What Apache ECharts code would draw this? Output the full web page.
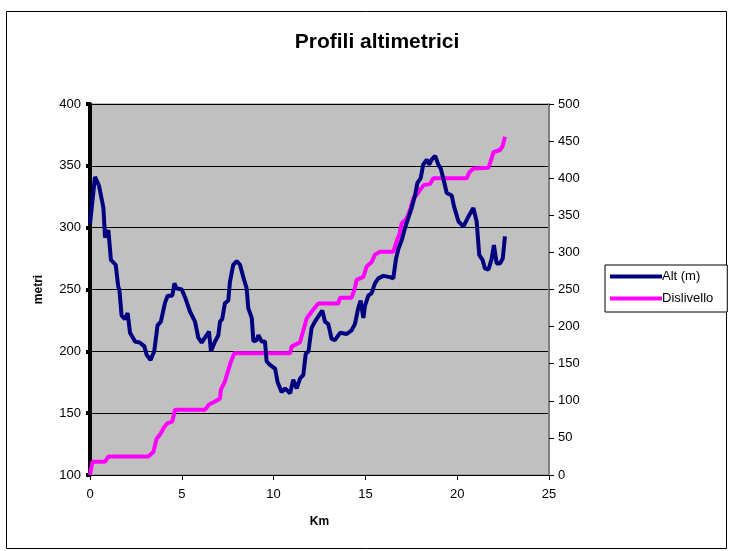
<!DOCTYPE html>
<html>
<head>
<meta charset="utf-8">
<script src="https://cdn.jsdelivr.net/npm/echarts@6/dist/echarts.min.js"></script>
<style>
  html, body { margin: 0; padding: 0; background: #fff; }
  #chart { width: 729px; height: 551px; }
</style>
</head>
<body>
<div id="chart"></div>
<script>
// Alt (m) - km / metri (asse sinistro)
const altKm = [0, 0.27, 0.49, 0.73, 0.82, 1.0, 1.14, 1.4, 1.54, 1.6, 1.72, 1.9, 2.05, 2.18, 2.45, 2.72, 2.96, 3.09, 3.3, 3.5,
  3.68, 3.86, 4.08, 4.23, 4.48, 4.6, 4.7, 5.0, 5.17, 5.45, 5.72, 5.9, 6.08, 6.26, 6.48, 6.59, 6.81, 6.99, 7.08, 7.2,
  7.35, 7.53, 7.62, 7.8, 7.99, 8.17, 8.35, 8.53, 8.62, 8.81, 8.9, 9.08, 9.17, 9.35, 9.53, 9.62, 9.8, 10.08, 10.22, 10.44,
  10.62, 10.9, 11.07, 11.26, 11.44, 11.62, 11.75, 11.9, 12.07, 12.25, 12.43, 12.65, 12.8, 12.98, 13.16, 13.34, 13.62, 13.98, 14.25, 14.43,
  14.61, 14.74, 14.89, 14.98, 15.16, 15.34, 15.52, 15.7, 15.98, 16.34, 16.52, 16.67, 16.8, 16.98, 17.16, 17.34, 17.52, 17.7, 17.83, 18.01,
  18.15, 18.34, 18.48, 18.6, 18.8, 18.97, 19.1, 19.24, 19.43, 19.7, 19.83, 20.07, 20.34, 20.61, 20.88, 21.06, 21.2, 21.38, 21.51, 21.7,
  21.88, 22.0, 22.15, 22.33, 22.48, 22.6];
const altM = [303, 341, 334, 316, 292, 298, 274, 270, 252, 250, 229, 226, 231, 215, 208, 207, 204, 197, 193, 200,
  221, 224, 239, 245, 245, 255, 251, 250, 244, 232, 224, 211, 207, 211, 216, 200, 208, 213, 224, 226,
  239, 241, 256, 270, 273, 270, 260, 251, 235, 227, 208, 209, 213, 208, 208, 192, 189, 186, 175, 167,
  170, 166, 177, 170, 178, 181, 198, 200, 219, 224, 228, 233, 224, 222, 210, 209, 215, 214, 217, 222,
  235, 241, 227, 237, 245, 247, 255, 259, 261, 260, 259, 275, 283, 290, 300, 308, 316, 326, 336, 340,
  351, 355, 351, 355, 358, 351, 348, 340, 328, 326, 317, 305, 301, 309, 316, 305, 278, 274, 267, 266,
  275, 286, 271, 271, 275, 293];

// Dislivello - km / metri (asse destro)
const disKm = [0, 0.13, 0.82, 1.0, 3.18, 3.45, 3.63, 3.8, 4.05, 4.23, 4.48, 4.63, 6.26, 6.48, 6.81, 7.08, 7.13, 7.35, 7.5, 7.68,
  7.86, 10.9, 10.98, 11.44, 11.62, 11.8, 12.07, 12.43, 13.52, 13.62, 14.25, 14.43, 14.52, 14.89, 15.07, 15.34, 15.52, 15.8, 16.52, 16.7,
  16.85, 16.98, 17.25, 17.43, 17.61, 17.8, 17.97, 18.19, 18.52, 18.7, 20.52, 20.66, 20.88, 21.7, 21.88, 21.97, 22.33, 22.47, 22.6];
const disM = [0, 18, 18, 25, 25, 31, 49, 54, 65, 70, 72, 88, 88, 95, 99, 103, 115, 126, 139, 153,
  164, 164, 173, 179, 195, 211, 220, 231, 231, 239, 239, 252, 263, 267, 281, 287, 297, 301, 301, 315,
  324, 339, 346, 357, 373, 378, 384, 391, 392, 400, 400, 408, 413, 414, 427, 435, 438, 443, 456];

const leftTicks = [100, 400, 50];
const rightTicks = [0, 500, 50];
const kmTicks = [0, 25, 5];

const pairs = (xs, ys) => xs.map((x, i) => [x, ys[i]]);

const chart = echarts.init(document.getElementById("chart"));
const font = "Liberation Sans, Arial, sans-serif";

chart.setOption({
  animation: false,
  backgroundColor: "#ffffff",
  textStyle: { fontFamily: font },
  graphic: [
    {
      type: "rect",
      shape: { x: 6.5, y: 11.5, width: 720, height: 537 },
      style: { fill: "none", stroke: "#000", lineWidth: 1 },
      silent: true
    }
  ],
  title: {
    text: "Profili altimetrici",
    left: 372,
    textAlign: "center",
    top: 27,
    textStyle: { fontFamily: font, fontSize: 21, fontWeight: "bold", color: "#000" }
  },
  legend: {
    orient: "vertical",
    left: 605,
    top: 265,
    padding: [5, 14, 7, 5],
    itemGap: 9,
    itemWidth: 52,
    itemHeight: 4,
    borderColor: "#000",
    borderWidth: 1,
    backgroundColor: "#fff",
    icon: "rect",
    textStyle: { fontFamily: font, fontSize: 13, color: "#000", padding: [0, 0, 0, -5] },
    data: ["Alt (m)", "Dislivello"]
  },
  grid: {
    left: 90,
    right: 180,
    top: 104,
    bottom: 76,
    show: true,
    backgroundColor: "#c0c0c0",
    borderColor: "#808080",
    borderWidth: 1
  },
  xAxis: {
    type: "value",
    min: kmTicks[0],
    max: kmTicks[1],
    interval: kmTicks[2],
    name: "Km",
    nameLocation: "middle",
    nameGap: 41,
    nameTextStyle: { fontFamily: font, fontSize: 12, fontWeight: "bold", color: "#000" },
    axisLine: { show: true, lineStyle: { color: "#000", width: 1 } },
    axisTick: { show: true, inside: false, length: 5, lineStyle: { color: "#000" } },
    axisLabel: { fontFamily: font, fontSize: 13, color: "#000", margin: 13 },
    splitLine: { show: false }
  },
  yAxis: [
    {
      type: "value",
      min: leftTicks[0],
      max: leftTicks[1],
      interval: leftTicks[2],
      name: "metri",
      nameLocation: "middle",
      nameGap: 45,
      nameTextStyle: { fontFamily: font, fontSize: 12, fontWeight: "bold", color: "#000" },
      axisLine: { show: true, lineStyle: { color: "#000", width: 4 } },
      axisTick: { show: true, length: 4, lineStyle: { color: "#000", width: 4 } },
      axisLabel: { fontFamily: font, fontSize: 13, color: "#000", margin: 9 },
      splitLine: { show: true, lineStyle: { color: "#000", width: 1 } }
    },
    {
      type: "value",
      position: "right",
      min: rightTicks[0],
      max: rightTicks[1],
      interval: rightTicks[2],
      axisLine: { show: true, lineStyle: { color: "#808080", width: 2 } },
      axisTick: { show: true, length: 5, lineStyle: { color: "#000", width: 1 } },
      axisLabel: { fontFamily: font, fontSize: 13, color: "#000", margin: 9 },
      splitLine: { show: false }
    }
  ],
  series: [
    {
      name: "Alt (m)",
      type: "line",
      yAxisIndex: 0,
      data: pairs(altKm, altM),
      symbol: "none",
      color: "#000080",
      lineStyle: { color: "#000080", width: 4 },
      z: 3
    },
    {
      name: "Dislivello",
      type: "line",
      yAxisIndex: 1,
      data: pairs(disKm, disM),
      symbol: "none",
      color: "#ff00ff",
      lineStyle: { color: "#ff00ff", width: 4 },
      z: 2
    }
  ]
});
</script>
</body>
</html>
